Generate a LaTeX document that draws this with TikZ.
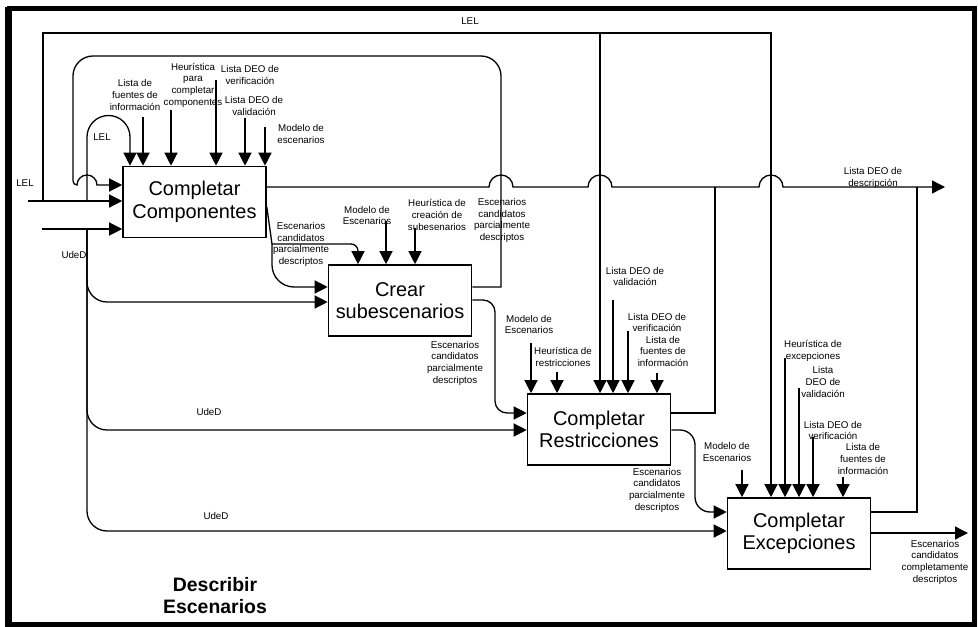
\documentclass[tikz,border=0pt]{standalone}
\usepackage{fontspec}
\setmainfont{Liberation Sans}
\usetikzlibrary{arrows.meta,calc}
\begin{document}
\begin{tikzpicture}[x=1bp,y=-1bp,
  proc/.style={draw,line width=1.6bp,minimum width=143bp,minimum height=71bp,inner sep=0pt,align=center,
    font=\fontsize{20}{22.5}\selectfont},
  lbl/.style={inner sep=0pt,align=center,font=\fontsize{9.8}{11.7}\selectfont},
  wire/.style={line width=1.3bp},
  arr/.style={wire,-{Triangle[length=13bp,width=13bp]}},
]
\useasboundingbox (0,0) rectangle (978,627);

% outer frame
\draw[line width=5bp] (9,9) rectangle (974.5,624.5);
\draw[line width=7bp] (8,7) -- (8,627);

% activities
\node[proc] (comp)  at (194.5,202)   {Completar\\Componentes};
\node[proc] (crear) at (400,300.5)   {Crear\\subescenarios};
\node[proc] (restr) at (599,429.5)   {Completar\\Restricciones};
\node[proc] (excep) at (799,533.5)   {Completar\\Excepciones};

% free ends of the external inputs / controls
\coordinate (lelIn)  at (28,201);
\coordinate (lelUp)  at (43,201);
\coordinate (lelLp)  at (87,201);
\coordinate (udIn)   at (42,229);
\coordinate (udDn)   at (87,229);

% ---------- LEL ----------
\draw[arr] (lelIn) -- (comp.west |- lelIn);
\draw[arr] (lelUp) -- (43,33) -- (771,33) -- (771,0 |- excep.north);
\draw[arr] (600,33) -- (600,0 |- restr.north);
\draw[arr] (lelLp) -- (87,137) arc[start angle=180,end angle=0,radius=21.5bp] -- (130,0 |- comp.north);

% ---------- UdeD ----------
\draw[arr] (udIn) -- (comp.west |- udIn);
\draw[arr,rounded corners=20bp] (udDn) -- (87,302) -- (crear.west |- 0,302);
\draw[arr,rounded corners=20bp] (udDn) -- (87,430) -- (restr.west |- 0,430);
\draw[arr,rounded corners=20bp] (udDn) -- (87,531) -- (excep.west |- 0,531);

% ---------- feedback of Crear subescenarios ----------
\draw[arr] (crear.east |- 0,287) -- (501,287) -- (501,76)
  arc[start angle=0,end angle=90,radius=20bp] -- (93,56)
  arc[start angle=90,end angle=180,radius=20bp] -- (73,181)
  arc[start angle=180,end angle=270,radius=4bp]
  arc[start angle=180,end angle=0,radius=10bp] -- (comp.west |- 0,185);

% ---------- Lista DEO de descripcion ----------
\draw[arr] (comp.east |- 0,187) -- (489,187)
  arc[start angle=180,end angle=0,radius=12bp] -- (588,187)
  arc[start angle=180,end angle=0,radius=12bp] -- (759,187)
  arc[start angle=180,end angle=0,radius=12bp] -- (945,187);
\draw[wire] (restr.east |- 0,413) -- (715,413) -- (715,187);
\draw[wire] (excep.east |- 0,512) -- (917,512) -- (917,187);

% ---------- escenarios passed along the chain ----------
\coordinate (cjoin) at (272,244);
\draw[wire] (comp.east |- 0,207) -- (cjoin);
\draw[arr,rounded corners=7bp] (cjoin) -- (358,244) -- (358,0 |- crear.north);
\draw[arr,rounded corners=22bp] (cjoin) -- (272,287) -- (crear.west |- 0,287);
\draw[arr,rounded corners=12bp] (crear.east |- 0,300) -- (495,300) -- (495,413) -- (restr.west |- 0,413);
\draw[arr,rounded corners=15bp] (restr.east |- 0,430) -- (695,430) -- (695,512) -- (excep.west |- 0,512);
\draw[arr] (excep.east |- 0,533) -- (968,533);

% ---------- controls from above ----------
\foreach \x/\y in {143/117,171/110,216/80,245/118,265/127}
  \draw[arr] (\x,\y) -- (\x,0 |- comp.north);
\foreach \x/\y in {386/221,415/228}
  \draw[arr] (\x,\y) -- (\x,0 |- crear.north);
\foreach \x/\y in {531/343,557/372,613/300,628/331,657/373}
  \draw[arr] (\x,\y) -- (\x,0 |- restr.north);
\foreach \x/\y in {742/470,785/358,799/388,813/437,843/477}
  \draw[arr] (\x,\y) -- (\x,0 |- excep.north);

% ---------- labels ----------
\node[lbl] (tLEL)  at (470,21)  {LEL};
\node[lbl] (aLEL)  at (25,183)  {LEL};
\node[lbl] (bLEL)  at (102,137) {LEL};
\node[lbl] (aUd)   at (74,255)  {UdeD};
\node[lbl] (bUd)   at (209,412) {UdeD};
\node[lbl] (cUd)   at (216,516) {UdeD};

\node[lbl] (c1) at (135,95)  {Lista de\\fuentes de\\información};
\node[lbl] (c2) at (193,85)  {Heurística\\para\\completar\\componentes};
\node[lbl] (c3) at (250,75)  {Lista DEO de\\verificación};
\node[lbl] (c4) at (254,106) {Lista DEO de\\validación};
\node[lbl] (c5) at (301,134) {Modelo de\\escenarios};
\node[lbl] (o1) at (301,244.5) {Escenarios\\candidatos\\parcialmente\\descriptos};

\node[lbl] (s1) at (367,215.5) {Modelo de\\Escenarios};
\node[lbl] (s2) at (437,215)   {Heurística de\\creación de\\subesenarios};
\node[lbl] (o2) at (502,220.5) {Escenarios\\candidatos\\parcialmente\\descriptos};
\node[lbl] (o3) at (455,363)   {Escenarios\\candidatos\\parcialmente\\descriptos};

\node[lbl] (r1) at (529,324.5) {Modelo de\\Escenarios};
\node[lbl] (r2) at (563,357)   {Heurística de\\restricciones};
\node[lbl] (r3) at (635,276.5) {Lista DEO de\\validación};
\node[lbl] (r4) at (657,322.5) {Lista DEO de\\verificación};
\node[lbl] (r5) at (663,351.5) {Lista de\\fuentes de\\información};
\node[lbl] (o4) at (657,490)   {Escenarios\\candidatos\\parcialmente\\descriptos};

\node[lbl] (e1) at (727,452)   {Modelo de\\Escenarios};
\node[lbl] (e2) at (813,351)   {Heurística de\\excepciones};
\node[lbl] (e3) at (823,382)   {Lista\\DEO de\\validación};
\node[lbl] (e4) at (833,430.5) {Lista DEO de\\verificación};
\node[lbl] (e5) at (863,459)   {Lista de\\fuentes de\\información};

\node[lbl] (d1) at (873,178)   {Lista DEO de\\descripción};
\node[lbl] (o5) at (935,562)   {Escenarios\\candidatos\\completamente\\descriptos};

\node[inner sep=0pt,align=center,font=\bfseries\fontsize{19.5}{22}\selectfont] (title)
  at (215,596) {Describir\\Escenarios};
\end{tikzpicture}
\end{document}
